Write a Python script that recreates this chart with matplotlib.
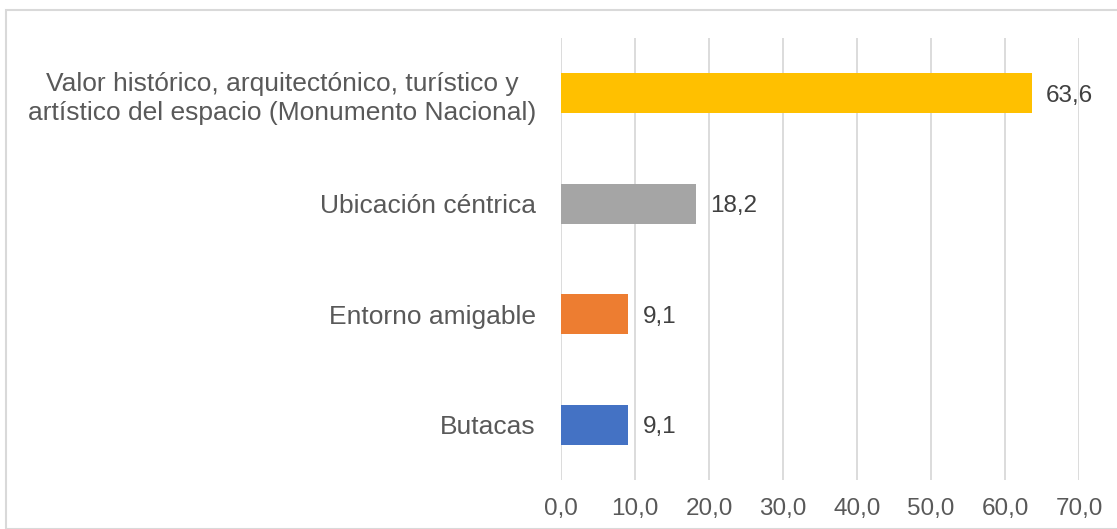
import matplotlib
matplotlib.use("Agg")
import matplotlib.pyplot as plt
from matplotlib.patches import Rectangle

categories = ["Butacas", "Entorno amigable", "Ubicación céntrica",
              "Valor histórico, arquitectónico, turístico y\nartístico del espacio (Monumento Nacional)"]
values = [9.1, 9.1, 18.2, 63.6]
colors = ["#4472C4", "#ED7D31", "#A5A5A5", "#FFC000"]
xticks = [0, 10, 20, 30, 40, 50, 60, 70]

plt.rcParams['font.family'] = ['Liberation Sans', 'DejaVu Sans']

W, H = 1117, 529
fig = plt.figure(figsize=(W/100, H/100), dpi=100)
fig.patches.append(Rectangle((6/W, 0), 1.2, 1 - 10/H, transform=fig.transFigure,
                             fill=False, edgecolor="#D9D9D9", linewidth=1.5))

ax = fig.add_axes([561/W, 1 - 480/H, (1079-561)/W, (480-38)/H])
y = list(range(len(categories)))
ax.barh(y, values, height=0.36, color=colors, zorder=3)
for yi, v in zip(y, values):
    ax.text(v + 1.9, yi, f"{v:.1f}".replace(".", ","), va="center_baseline", ha="left",
            fontsize=17.5, color="#404040", zorder=4)
ax.set_xlim(0, 70)
ax.set_ylim(-0.5, 3.5)
ax.set_xticks(xticks)
ax.set_xticklabels([f"{t:.1f}".replace(".", ",") for t in xticks], fontsize=17.5, color="#595959")
ax.set_yticks(y)
ax.set_yticklabels(categories, fontsize=19, color="#595959", linespacing=1.3,
                   multialignment="center")
ax.tick_params(axis="both", length=0)
ax.tick_params(axis="y", pad=18)
ax.tick_params(axis="x", pad=13)
ax.grid(axis="x", color="#D9D9D9", linewidth=1.3, zorder=0)
for s in ax.spines.values():
    s.set_visible(False)

fig.savefig("out.png", dpi=100)
